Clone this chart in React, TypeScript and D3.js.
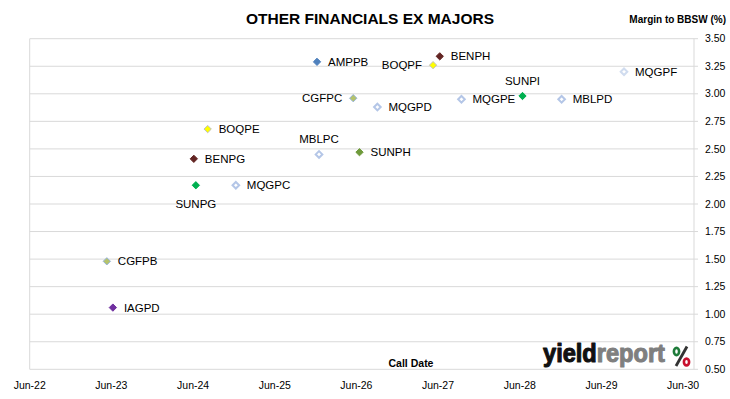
import * as d3 from 'd3';

// call dates and margins (%)
const codes = ['IAGPD', 'CGFPB', 'BENPG', 'SUNPG', 'BOQPE', 'MQGPC', 'AMPPB', 'MBLPC', 'CGFPC', 'SUNPH', 'MQGPD', 'BOQPF', 'BENPH', 'MQGPE', 'SUNPI', 'MBLPD', 'MQGPF'];
const callDates = ['2023-06-08', '2023-05-12', '2024-06-04', '2024-06-13', '2024-08-05', '2024-12-09', '2025-12-07', '2025-12-16', '2026-05-18', '2026-06-15', '2026-09-03', '2027-05-10', '2027-06-09', '2027-09-14', '2028-06-13', '2028-12-05', '2029-09-10'];
const margins = [1.06, 1.48, 2.41, 2.17, 2.68, 2.17, 3.29, 2.45, 2.96, 2.47, 2.88, 3.26, 3.34, 2.95, 2.98, 2.95, 3.20];
const labelSide = ['right', 'right', 'right', 'below', 'right', 'right', 'right', 'above', 'left', 'right', 'right', 'left', 'right', 'right', 'above', 'right', 'right'];

const yTicks = [0.5, 0.75, 1.0, 1.25, 1.5, 1.75, 2.0, 2.25, 2.5, 2.75, 3.0, 3.25, 3.5];
const xTickYears = [2022, 2023, 2024, 2025, 2026, 2027, 2028, 2029, 2030];

// marker look per code
const markerStyle: Record<string, { fill: string; stroke: string; hollow?: boolean }> = {
  IAGPD: { fill: '#7030a0', stroke: '#7030a0' },
  CGFPB: { fill: '#b5c36b', stroke: '#95b3d7' },
  CGFPC: { fill: '#b5c36b', stroke: '#95b3d7' },
  BENPG: { fill: '#632523', stroke: '#632523' },
  BENPH: { fill: '#632523', stroke: '#632523' },
  SUNPG: { fill: '#00b050', stroke: '#00b050' },
  SUNPI: { fill: '#00b050', stroke: '#00b050' },
  SUNPH: { fill: '#6f9a3b', stroke: '#6f9a3b' },
  BOQPE: { fill: '#ffff00', stroke: '#bfbfbf' },
  BOQPF: { fill: '#ffff00', stroke: '#bfbfbf' },
  AMPPB: { fill: '#4f81bd', stroke: '#4f81bd' },
  MQGPC: { fill: '#fff', stroke: '#b4c6e7', hollow: true },
  MQGPD: { fill: '#fff', stroke: '#b4c6e7', hollow: true },
  MQGPE: { fill: '#fff', stroke: '#b4c6e7', hollow: true },
  MBLPC: { fill: '#fff', stroke: '#b4c6e7', hollow: true },
  MBLPD: { fill: '#fff', stroke: '#b4c6e7', hollow: true },
  MQGPF: { fill: '#fff', stroke: '#d0dcef', hollow: true },
};

const W = 730;
const H = 399;
const left = 29.7;
const right = 694;
const top = 38.7;
const bottom = 369.3;

export default function App() {
  const parse = d3.timeParse('%Y-%m-%d');
  const x = d3.scaleTime()
    .domain([new Date(2022, 5, 1), new Date(2030, 6, 20)])
    .range([left, right]);
  const y = d3.scaleLinear().domain([0.5, 3.5]).range([bottom, top]);
  const fmt = d3.format('.2f');
  const diamond = d3.symbol().type(d3.symbolDiamond2);
  const font = '"Liberation Sans", Arial, sans-serif';

  const pts = codes.map((c, i) => ({
    code: c,
    date: parse(callDates[i]) as Date,
    value: margins[i],
    side: labelSide[i],
  }));

  return (
    <svg width={W} height={H} style={{ position: 'absolute', left: 0, top: 0, background: '#fff' }} fontFamily={font}>
      {/* gridlines */}
      {yTicks.map(t => (
        <line key={t} x1={left} x2={right + 4} y1={y(t)} y2={y(t)} stroke="#d9d9d9" strokeWidth={1} />
      ))}
      <line x1={left} x2={left} y1={top} y2={bottom} stroke="#d9d9d9" />
      <line x1={right} x2={right} y1={top} y2={bottom} stroke="#d9d9d9" />

      {/* y tick labels */}
      {yTicks.map(t => (
        <text key={t} x={705} y={y(t)} dy="0.35em" fontSize={10.5} fill="#000">{fmt(t)}</text>
      ))}

      {/* x tick labels */}
      {xTickYears.map(yr => (
        <text key={yr} x={x(new Date(yr, 5, 1))} y={385} dy="0.35em" textAnchor="middle" fontSize={10.5} fill="#000">
          {`Jun-${String(yr).slice(2)}`}
        </text>
      ))}

      {/* titles */}
      <text x={370} y={19} dy="0.35em" textAnchor="middle" fontSize={15.5} fontWeight="bold">OTHER FINANCIALS EX MAJORS</text>
      <text x={726} y={19} dy="0.35em" textAnchor="end" fontSize={10} fontWeight="bold">Margin to BBSW (%)</text>
      <text x={411} y={363} dy="0.35em" textAnchor="middle" fontSize={10.5} fontWeight="bold">Call Date</text>

      {/* points */}
      {pts.map(p => {
        const s = markerStyle[p.code];
        const px = x(p.date);
        const py = y(p.value);
        return (
          <path
            key={p.code}
            d={diamond.size(s.hollow ? 28 : 34)() as string}
            transform={`translate(${px},${py})`}
            fill={s.fill}
            stroke={s.stroke}
            strokeWidth={s.hollow ? 2 : 1}
          />
        );
      })}

      {/* labels */}
      {pts.map(p => {
        const px = x(p.date);
        const py = y(p.value);
        let lx = px + 11;
        let ly = py;
        let anchor = 'start';
        if (p.side === 'left') { lx = px - 11; anchor = 'end'; }
        if (p.side === 'above') { lx = px; ly = py - 15; anchor = 'middle'; }
        if (p.side === 'below') { lx = px; ly = py + 19; anchor = 'middle'; }
        return (
          <text key={p.code} x={lx} y={ly} dy="0.35em" textAnchor={anchor} fontSize={11.5} fill="#000">{p.code}</text>
        );
      })}

      {/* logo */}
      <g>
        <text x={543} y={362} fontSize={26} fontWeight="bold" textLength={122} lengthAdjust="spacingAndGlyphs" strokeWidth={1.1} strokeLinejoin="round">
          <tspan fill="#111" stroke="#111">yield</tspan><tspan fill="#7f7f7f" stroke="#7f7f7f">report</tspan>
        </text>
        <ellipse cx={676.5} cy={351.5} rx={2.6} ry={3.6} fill="none" stroke="#1e7b3a" strokeWidth={2.6} />
        <line x1={687} y1={346.5} x2={676} y2={366} stroke="#333" strokeWidth={2.8} />
        <ellipse cx={686.5} cy={362} rx={2.6} ry={3.4} fill="none" stroke="#c8102e" strokeWidth={2.6} />
      </g>
    </svg>
  );
}
